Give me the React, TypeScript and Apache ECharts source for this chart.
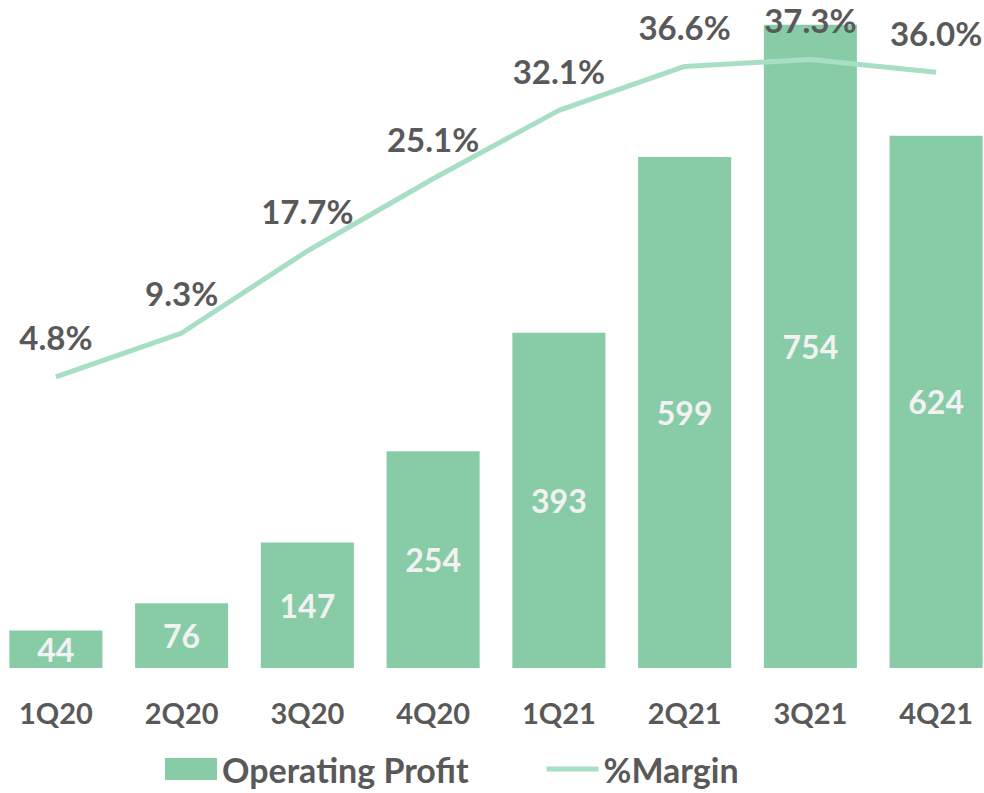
import React, { useEffect, useRef } from "react";
import * as echarts from "echarts";

const categories = ["1Q20", "2Q20", "3Q20", "4Q20", "1Q21", "2Q21", "3Q21", "4Q21"];
const operatingProfit = [44, 76, 147, 254, 393, 599, 754, 624];
const marginPct = [4.8, 9.3, 17.7, 25.1, 32.1, 36.6, 37.3, 36.0];

const FONT = "Lato";
const GREY = "#595959";
const BAR_COLOR = "#88cca7";
const LINE_COLOR = "#a8dfc4";

export default function App() {
  const ref = useRef<HTMLDivElement>(null);
  useEffect(() => {
    if (!ref.current) return;
    const chart = echarts.init(ref.current, null, { renderer: "svg" });
    chart.setOption({
      animation: false,
      textStyle: { fontFamily: FONT },
      grid: { left: 0, right: 0, top: 0, bottom: 125, containLabel: false },
      legend: {
        bottom: 2,
        left: 167,
        itemWidth: 52,
        itemHeight: 22,
        itemGap: 78,
        textStyle: { fontFamily: FONT, fontWeight: "bold", fontSize: 34, color: GREY },
        data: [
          { name: "Operating Profit", icon: "rect" },
          { name: "%Margin", icon: "path://M0,0 L52,0 L52,5 L0,5 Z", itemStyle: { color: LINE_COLOR } },
        ],
      },
      xAxis: {
        type: "category",
        data: categories,
        axisLine: { show: false },
        axisTick: { show: false },
        axisLabel: { fontFamily: FONT, fontWeight: "bold", fontSize: 29, color: GREY, margin: 30 },
      },
      yAxis: [
        { type: "value", min: 0, max: 783, show: false, splitLine: { show: false } },
        { type: "value", min: -25, max: 43.4, show: false, splitLine: { show: false } },
      ],
      series: [
        {
          name: "Operating Profit",
          type: "bar",
          data: operatingProfit,
          barCategoryGap: "26%",
          itemStyle: { color: BAR_COLOR },
          label: {
            show: true,
            position: "inside",
            fontFamily: FONT,
            fontWeight: "bold",
            fontSize: 32,
            color: "#f2f2f2",
          },
        },
        {
          name: "%Margin",
          type: "line",
          yAxisIndex: 1,
          data: marginPct,
          symbol: "circle",
          symbolSize: 0.1,
          showSymbol: true,
          lineStyle: { color: LINE_COLOR, width: 5 },
          itemStyle: { color: LINE_COLOR },
          label: {
            show: true,
            position: "top",
            distance: 23,
            fontFamily: FONT,
            fontWeight: "bold",
            fontSize: 33,
            color: GREY,
            formatter: (p: any) => p.value.toFixed(1) + "%",
          },
        },
      ],
    });
    return () => chart.dispose();
  }, []);
  return (
    <div style={{ position: "absolute", left: 0, top: 0, width: 984, height: 793, overflow: "hidden" }}>
      <div ref={ref} style={{ position: "absolute", left: -7, top: 0, width: 1006, height: 793 }} />
    </div>
  );
}
